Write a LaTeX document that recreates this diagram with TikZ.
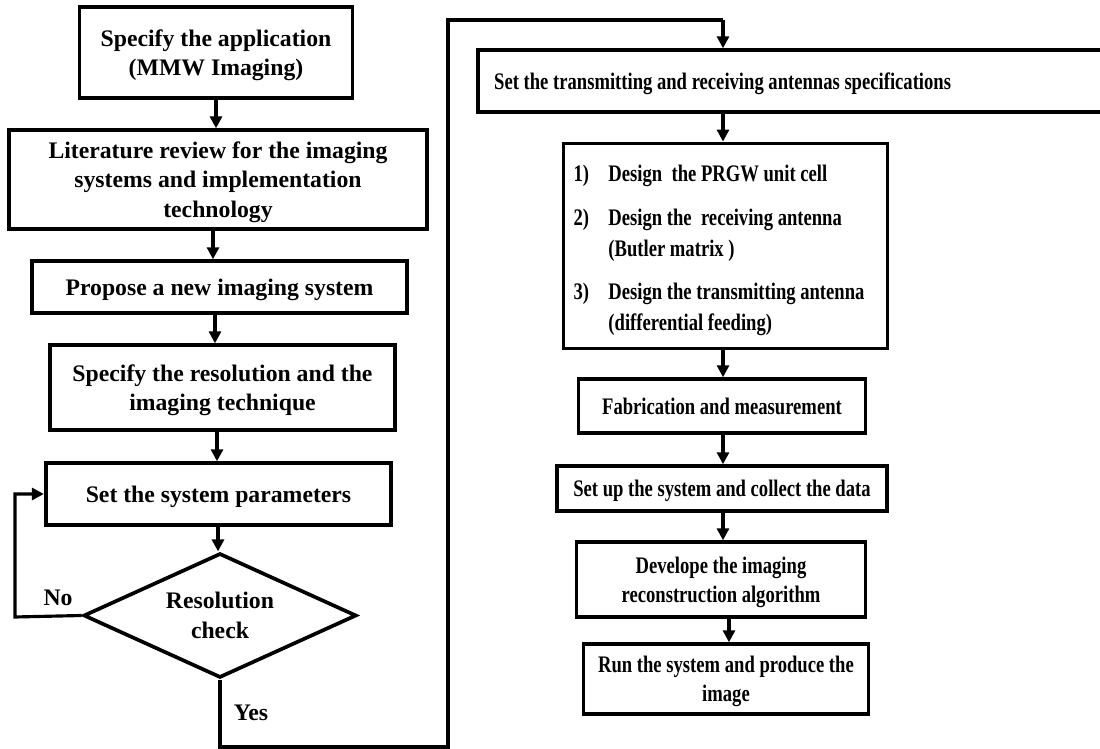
\documentclass[tikz,border=0pt]{standalone}
\usepackage{fontspec}
\setmainfont{Liberation Serif}
\newfontfamily\condensed{Liberation Serif}[FakeStretch=0.785]
\usetikzlibrary{arrows.meta,shapes.geometric}
\newdimen\pxu \pxu=0.5669pt
\tikzset{
  boxbase/.style={draw, line width=2.1pt, rectangle, inner sep=0pt, align=center},
  box/.style={boxbase, text depth=0pt,
    font=\fontsize{13.5pt}{16.7pt}\selectfont\bfseries},
  listbox/.style={boxbase, font=\condensed\fontsize{13.5pt}{16.7pt}\selectfont\bfseries},
  rbox/.style={boxbase, text depth=0pt, font=\condensed\fontsize{13.5pt}{16.7pt}\selectfont\bfseries},
  dia/.style={draw, line width=2.1pt, diamond, aspect=2.2, inner sep=0pt, align=center,
    font=\fontsize{13.5pt}{16.7pt}\selectfont\bfseries},
  arr/.style={line width=1.8pt, -{Triangle[length=6.8pt,width=6.8pt]}},
  rarr/.style={line width=2.4pt, -{Triangle[length=6.8pt,width=6.8pt]}},
  conn/.style={line width=1.8pt},
  lab/.style={font=\fontsize{13.5pt}{16.7pt}\selectfont\bfseries, inner sep=0pt}
}
\begin{document}
\begin{tikzpicture}[x=0.02cm,y=-0.02cm]
\useasboundingbox (0,0) rectangle (1100,749);
\clip (0,0) rectangle (1100,749);
% left column
\node[box, minimum width=274\pxu, minimum height=91\pxu] (b1) at (216,52.5) {Specify the application\\(MMW Imaging)};
\node[box, minimum width=420\pxu, minimum height=99\pxu] (b2) at (218,179.5) {Literature review for the imaging\\systems and implementation\\technology};
\node[box, minimum width=377\pxu, minimum height=52\pxu] (b3) at (219.5,287) {Propose a new imaging system};
\node[box, minimum width=347\pxu, minimum height=85\pxu] (b4) at (222.5,387.5) {Specify the resolution and the\\imaging technique};
\node[box, minimum width=347\pxu, minimum height=62\pxu] (b5) at (218.5,494) {Set the system parameters};
\node[dia, minimum width=274\pxu, minimum height=125\pxu] (d) at (220,615.5) {Resolution\\check};
\node[lab] (no) at (58,598) {No};
\node[lab] (yes) at (251,713) {Yes};
% right column
\node[rbox, minimum height=62\pxu, text width=600\pxu, inner xsep=16\pxu, align=left] (b6) at (793,81) {\spaceskip=0pt\xspaceskip=0pt Set the transmitting and receiving antennas specifications};
\node[listbox, minimum width=325\pxu, minimum height=206\pxu, text width=305\pxu, inner xsep=10\pxu, align=left] (b7) at (725.5,246) {\spaceskip=0pt\xspaceskip=0pt%
\raisebox{-2.2pt}[\height][\depth]{%
\begin{tabular}{@{}p{35\pxu}@{}l@{}}
1) & Design\ \ the PRGW unit cell\\[8.5pt]
2) & Design the\ \ receiving antenna\\[0.7pt]
   & (Butler matrix )\\[8pt]
3) & Design the transmitting antenna\\[0.7pt]
   & (differential feeding)
\end{tabular}}};
\node[rbox, minimum width=288\pxu, minimum height=54\pxu] (b8) at (722,406) {Fabrication and measurement};
\node[rbox, minimum width=332\pxu, minimum height=45\pxu] (b9) at (722,488.5) {Set up the system and collect the data};
\node[rbox, minimum width=290\pxu, minimum height=75\pxu] (b10) at (721,579.5) {Develope the imaging\\reconstruction algorithm};
\node[rbox, minimum width=286\pxu, minimum height=70\pxu] (b11) at (726,679) {Run the system and produce the\\image};
% coordinates
\coordinate (nl) at (15,617);
\coordinate (nu) at (15,494);
\coordinate (yb) at (218,747);
\coordinate (yr) at (448,747);
\coordinate (yt) at (448,20);
\coordinate (yx) at (723,20);
\coordinate (xa) at (216,0);
\coordinate (xb) at (213,0);
\coordinate (xc) at (215,0);
\coordinate (xd) at (217,0);
\coordinate (xe) at (218,0);
\coordinate (xr) at (723,0);
\coordinate (xs) at (729,0);
% left arrows
\draw[arr] (b1.south -| xa) -- (b2.north -| xa);
\draw[arr] (b2.south -| xb) -- (b3.north -| xb);
\draw[arr] (b3.south -| xc) -- (b4.north -| xc);
\draw[arr] (b4.south -| xd) -- (b5.north -| xd);
\draw[arr] (b5.south -| xe) -- (d.north -| xe);
\draw[arr] (d.west) -- (nl) -- (nu) -- (b5.west);
\draw[conn] (d.south) -- (d.south |- yb) -- (yr) -- (yt) -- (yx);
\draw[arr] (yx) -- (b6.north -| yx);
% right arrows
\draw[rarr] (b6.south -| xr) -- (b7.north -| xr);
\draw[rarr] (b7.south -| xr) -- (b8.north -| xr);
\draw[rarr] (b8.south -| xr) -- (b9.north -| xr);
\draw[rarr] (b9.south -| xr) -- (b10.north -| xr);
\draw[rarr] (b10.south -| xs) -- (b11.north -| xs);
\end{tikzpicture}
\end{document}
